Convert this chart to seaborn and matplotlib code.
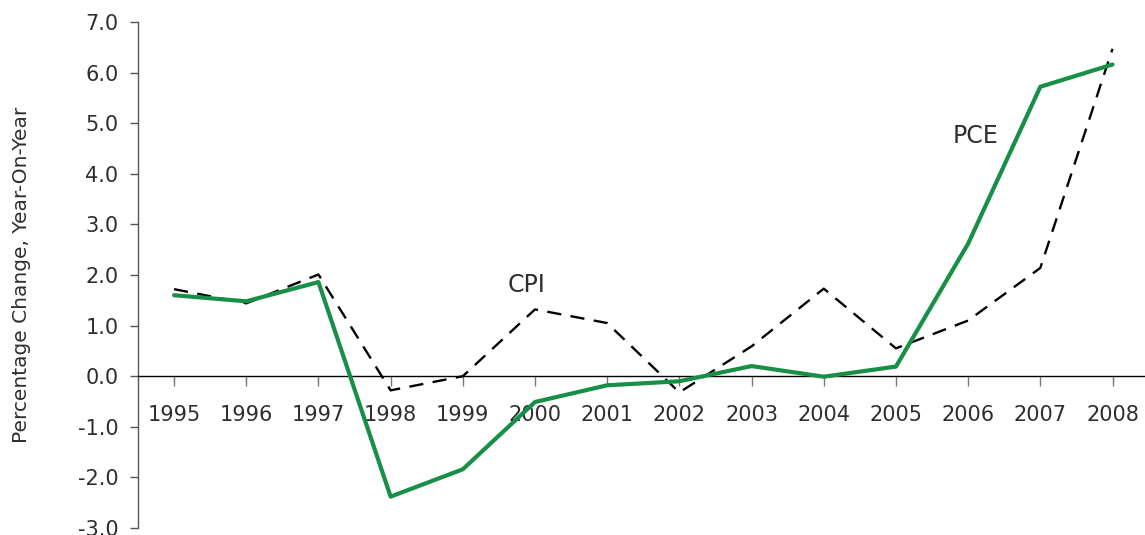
import matplotlib
matplotlib.use("Agg")
import matplotlib.pyplot as plt
import seaborn as sns
import pandas as pd

years = [1995, 1996, 1997, 1998, 1999, 2000, 2001, 2002, 2003, 2004, 2005, 2006, 2007, 2008]
pce = [1.60, 1.48, 1.86, -2.38, -1.84, -0.51, -0.18, -0.10, 0.20, -0.01, 0.19, 2.62, 5.72, 6.16]
cpi = [1.72, 1.44, 2.01, -0.28, 0.00, 1.32, 1.05, -0.32, 0.59, 1.73, 0.55, 1.10, 2.14, 6.47]
yticks = [-3, -2, -1, 0, 1, 2, 3, 4, 5, 6, 7]

sns.set_theme(style="white")
plt.rcParams['font.family'] = ['DejaVu Sans']
text_col = '#2e2e2e'

df = pd.DataFrame({'Year': years, 'PCE': pce, 'CPI': cpi})

fig = plt.figure(figsize=(11.45, 5.35), dpi=100)
ax = fig.add_axes([0.1205, 0.0131, 0.8795, 0.9458])

sns.lineplot(data=df, x='Year', y='CPI', ax=ax, color='black', linewidth=1.7,
             linestyle=(0, (6, 4)), zorder=2)
sns.lineplot(data=df, x='Year', y='PCE', ax=ax, color='#178f46', linewidth=3.0, zorder=3)

ax.set_xlim(1994.5, 2008.45)
ax.set_ylim(-3, 7)
ax.set_yticks(yticks)
ax.set_yticklabels([f"{v:.1f}" for v in yticks])
ax.set_xticks(years)
ax.set_xticklabels([str(y) for y in years])

for s in ['top', 'right']:
    ax.spines[s].set_visible(False)
ax.spines['left'].set_color('#555555')
ax.spines['left'].set_linewidth(1.0)
ax.spines['bottom'].set_position(('data', 0))
ax.spines['bottom'].set_color('black')
ax.spines['bottom'].set_linewidth(1.0)

ax.tick_params(axis='y', direction='out', length=6, width=1, color='#555555',
               labelsize=15, labelcolor=text_col, pad=8, left=True)
ax.tick_params(axis='x', direction='out', length=7, width=1, color='#777777',
               labelsize=15, labelcolor=text_col, pad=14, bottom=True)

ax.set_xlabel('')
ax.set_ylabel('Percentage Change, Year-On-Year', fontsize=14.5, color=text_col, labelpad=34)

ax.text(1999.88, 1.8, 'CPI', fontsize=17, color=text_col, ha='center', va='center')
ax.text(2006.1, 4.75, 'PCE', fontsize=17, color=text_col, ha='center', va='center')

ax.grid(False)
fig.savefig('out.png', dpi=100)
